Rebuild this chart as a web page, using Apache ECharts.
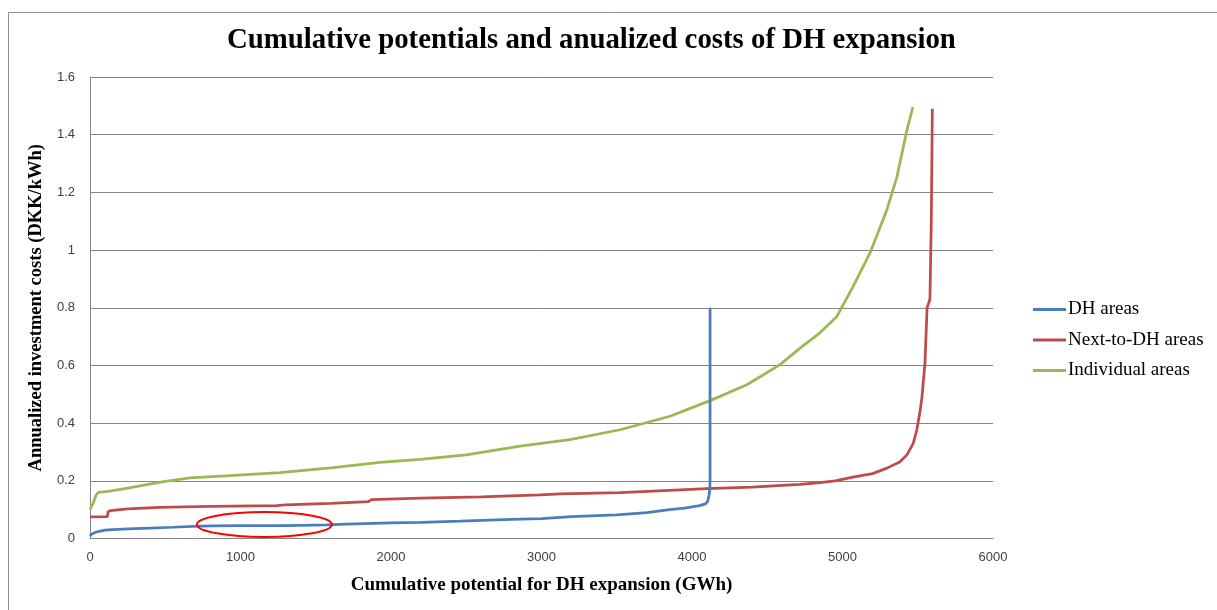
<!DOCTYPE html>
<html>
<head>
<meta charset="utf-8">
<script src="https://cdn.jsdelivr.net/npm/echarts@6/dist/echarts.min.js"></script>
<style>html,body{margin:0;padding:0;background:#fff;}#c{width:1217px;height:610px;}</style>
</head>
<body>
<div id="c"></div>
<script>
var titleText = 'Cumulative potentials and anualized costs of DH expansion';
var xName = 'Cumulative potential for DH expansion (GWh)';
var yName = 'Annualized investment costs (DKK/kWh)';
var seriesNames = ['DH areas', 'Next-to-DH areas', 'Individual areas'];

var dhX = [0, 10, 30, 60, 100, 150, 250, 400, 550, 685, 800, 1000, 1300, 1575, 1700, 2000, 2200, 2460, 2800, 3000, 3200, 3500, 3700, 3850, 3950, 4050, 4090, 4105, 4113, 4118, 4120, 4120];
var dhY = [0.008, 0.015, 0.02, 0.025, 0.029, 0.031, 0.033, 0.036, 0.039, 0.042, 0.044, 0.045, 0.045, 0.047, 0.05, 0.054, 0.056, 0.06, 0.066, 0.069, 0.076, 0.082, 0.09, 0.1, 0.105, 0.114, 0.12, 0.13, 0.15, 0.17, 0.2, 0.8];

var redX = [0, 115, 120, 135, 250, 465, 800, 1240, 1300, 1600, 1850, 1870, 2193, 2600, 2990, 3123, 3522, 4100, 4400, 4718, 4850, 4950, 5070, 5200, 5295, 5380, 5428, 5470, 5494, 5515, 5528, 5548, 5562, 5575, 5581, 5590, 5597];
var redY = [0.075, 0.076, 0.092, 0.097, 0.103, 0.108, 0.111, 0.114, 0.117, 0.122, 0.128, 0.135, 0.14, 0.144, 0.151, 0.155, 0.159, 0.173, 0.178, 0.188, 0.194, 0.2, 0.213, 0.225, 0.244, 0.265, 0.29, 0.33, 0.377, 0.44, 0.49, 0.61, 0.8, 0.82, 0.83, 1.1, 1.49];

var greenX = [0, 22, 40, 55, 133, 250, 377, 500, 664, 900, 1262, 1600, 1927, 2193, 2500, 2857, 3189, 3522, 3854, 4120, 4365, 4585, 4718, 4850, 4963, 5070, 5183, 5295, 5362, 5428, 5468];
var greenY = [0.1, 0.124, 0.15, 0.16, 0.164, 0.175, 0.187, 0.198, 0.21, 0.217, 0.228, 0.245, 0.264, 0.274, 0.29, 0.32, 0.343, 0.377, 0.424, 0.478, 0.533, 0.603, 0.66, 0.713, 0.77, 0.873, 0.99, 1.14, 1.254, 1.416, 1.496];

var ellipseCenter = [1159, 0.0485];

function pairs(xs, ys) { return xs.map(function (x, i) { return [x, ys[i]]; }); }

var serif = '"Liberation Serif", "Times New Roman", serif';
var sans = '"Liberation Sans", Arial, sans-serif';
var colors = ['#4A7EBB', '#BE4B48', '#98B954'];

var chart = echarts.init(document.getElementById('c'), null, {renderer: 'canvas'});
var option = {
  animation: false,
  backgroundColor: '#fff',
  color: colors,
  title: {
    text: titleText,
    left: 222,
    top: 21,
    textStyle: {fontFamily: serif, fontWeight: 'bold', fontSize: 28.8, color: '#000'}
  },
  grid: {left: 90, right: 224, top: 77, bottom: 71.5, containLabel: false},
  legend: {
    orient: 'vertical',
    left: 1028,
    top: 295,
    icon: 'rect',
    itemWidth: 33,
    itemHeight: 3,
    itemGap: 11.5,
    textStyle: {fontFamily: serif, fontSize: 19, color: '#000', padding: [0, 0, 0, -3]},
    data: seriesNames
  },
  xAxis: {
    type: 'value', min: 0, max: 6000, interval: 1000,
    name: xName, nameLocation: 'middle', nameGap: 37,
    nameTextStyle: {fontFamily: serif, fontWeight: 'bold', fontSize: 19, color: '#000'},
    axisLine: {show: true, lineStyle: {color: '#868686', width: 1}},
    axisTick: {show: false},
    axisLabel: {fontFamily: sans, fontSize: 13, color: '#404040', margin: 12, formatter: function (v) { return String(v); }},
    splitLine: {show: false}
  },
  yAxis: {
    type: 'value', min: 0, max: 1.6, interval: 0.2,
    name: yName, nameLocation: 'middle', nameGap: 41,
    nameTextStyle: {fontFamily: serif, fontWeight: 'bold', fontSize: 18.5, color: '#000'},
    axisLine: {show: true, lineStyle: {color: '#868686', width: 1}},
    axisTick: {show: false},
    axisLabel: {fontFamily: sans, fontSize: 13, color: '#404040', margin: 15},
    splitLine: {show: true, lineStyle: {color: '#868686', width: 1}}
  },
  series: [
    {name: seriesNames[0], type: 'line', data: pairs(dhX, dhY), showSymbol: false, symbol: 'none', lineStyle: {width: 2.75, color: colors[0]}, z: 3},
    {name: seriesNames[1], type: 'line', data: pairs(redX, redY), showSymbol: false, symbol: 'none', lineStyle: {width: 2.75, color: colors[1]}, z: 2},
    {name: seriesNames[2], type: 'line', data: pairs(greenX, greenY), showSymbol: false, symbol: 'none', lineStyle: {width: 2.75, color: colors[2]}, z: 1}
  ]
};
chart.setOption(option);

var c = chart.convertToPixel({gridIndex: 0}, ellipseCenter);
chart.setOption({
  graphic: [
    {type: 'rect', shape: {x: 8.5, y: 12.5, width: 1300, height: 700}, style: {fill: 'none', stroke: '#8c8c8c', lineWidth: 1}, silent: true, z: 100},
    {type: 'ellipse', shape: {cx: c[0], cy: c[1], rx: 67.5, ry: 12.5}, style: {fill: 'none', stroke: '#FF0000', lineWidth: 2}, silent: true, z: 100}
  ]
});
</script>
</body>
</html>
